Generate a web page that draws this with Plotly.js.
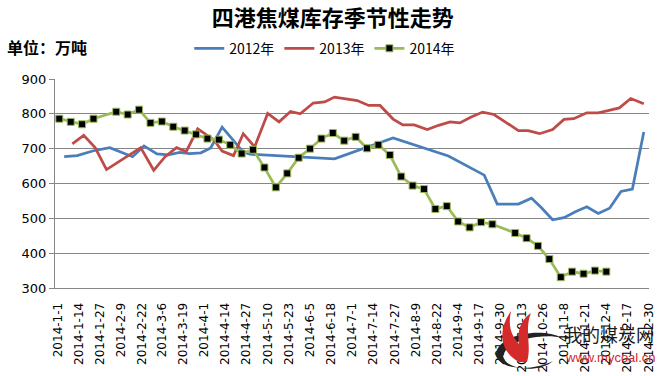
<!DOCTYPE html>
<html>
<head>
<meta charset="utf-8">
<script src="https://cdn.plot.ly/plotly-3.0.1.min.js"></script>
<style>
html,body{margin:0;padding:0;background:#fff;}
#chart{width:663px;height:376px;}
</style>
</head>
<body>
<div id="chart"></div>
<script>
// ---- data (day offsets from 2014-01-01 on the seasonal date axis) ----
const seriesNames = ['2012年', '2013年', '2014年'];

const days2012 = [4,12,22,32,46,53,61,68,75,81,88,94,101,114,118,149,170,206,240,262,270,283,291,297,304,311,318,325,332,339,346,353,360];
const vals2012 = [677,680,694,703,677,708,685,682,689,686,688,702,762,690,684,677,671,731,679,624,541,541,558,531,496,502,519,533,514,529,577,584,748];

const days2013 = [9,16,23,30,51,59,66,73,79,86,96,101,108,114,121,129,136,143,149,157,164,170,177,184,191,198,206,212,219,227,234,241,247,254,261,268,283,289,296,304,311,317,325,332,338,345,352,360];
const vals2013 = [714,738,703,640,703,638,677,703,692,757,725,693,680,743,705,801,777,807,800,831,834,848,843,838,824,824,785,768,768,755,767,777,774,791,805,798,752,752,743,755,784,786,803,803,809,817,844,829];

const days2014 = [1,8,15,22,36,43,50,57,64,71,78,85,92,99,106,113,120,127,134,141,148,155,162,169,176,183,190,197,204,211,218,225,232,239,246,253,260,267,281,288,295,302,309,316,323,330,337];
const vals2014 = [786,777,770,786,806,798,812,774,778,763,752,741,729,726,711,686,697,646,589,629,674,700,729,745,723,734,701,711,682,620,594,584,527,535,491,474,489,483,458,443,421,383,331,347,341,350,347];

const tickLabels = ['2014-1-1','2014-1-14','2014-1-27','2014-2-9','2014-2-22','2014-3-6','2014-3-19','2014-4-1','2014-4-14','2014-4-27','2014-5-10','2014-5-23','2014-6-5','2014-6-18','2014-7-1','2014-7-14','2014-7-27','2014-8-9','2014-8-22','2014-9-4','2014-9-17','2014-9-30','2014-10-13','2014-10-26','2014-11-8','2014-11-21','2014-12-4','2014-12-17','2014-12-30'];

// ---- helpers ----
const DAY = 86400000;
const BASE = Date.UTC(2014, 0, 1);
function dayToStr(d) {
  const iso = new Date(BASE + d * DAY).toISOString();
  return iso.slice(0, 10) + ' ' + iso.slice(11, 19);
}
function labelToDate(s) {
  const p = s.split('-');
  return p[0] + '-' + p[1].padStart(2, '0') + '-' + p[2].padStart(2, '0');
}

const colors = ['#4A7EBB', '#BE4B48', '#9BBB59'];

const traces = [
  {x: days2012.map(dayToStr), y: vals2012, name: seriesNames[0], type: 'scatter', mode: 'lines',
   line: {color: colors[0], width: 2.75}},
  {x: days2013.map(dayToStr), y: vals2013, name: seriesNames[1], type: 'scatter', mode: 'lines',
   line: {color: colors[1], width: 2.75}},
  {x: days2014.map(dayToStr), y: vals2014, name: seriesNames[2], type: 'scatter', mode: 'lines+markers',
   line: {color: colors[2], width: 2.75},
   marker: {symbol: 'square', size: 7, color: '#000000', line: {color: colors[2], width: 1}}}
];

// pixel -> paper conversion for the decorative watermark
const L = 55, R = 649, T = 79, B = 288;
function P(px, py) { return ((px - L) / (R - L)).toFixed(4) + ',' + ((B - py) / (B - T)).toFixed(4); }
function path(cmds) {
  return cmds.map(c => c[0] + ' ' + c.slice(1).map(pt => P(pt[0], pt[1])).join(' ')).join(' ') + ' Z';
}

const flame = path([
  ['M', [519, 362]],
  ['C', [500, 352], [497, 330], [511, 311]],
  ['C', [507, 330], [514, 338], [519, 344]],
  ['C', [517, 330], [521, 320], [531, 313]],
  ['C', [524, 330], [532, 346], [527, 362]]
]);
const swoosh = path([
  ['M', [496, 356]],
  ['C', [494, 336], [540, 326], [562, 338]],
  ['C', [546, 333], [508, 338], [503, 356]],
  ['C', [506, 371], [540, 373], [553, 361]],
  ['C', [536, 370], [503, 372], [496, 356]]
]);

const layout = {
  width: 663, height: 376,
  margin: {l: L, r: 663 - R, t: T, b: 376 - B, pad: 0},
  paper_bgcolor: '#ffffff', plot_bgcolor: '#ffffff',
  font: {family: '"DejaVu Sans", "Noto Sans CJK SC", sans-serif', color: '#000000'},
  title: {
    text: '四港焦煤库存季节性走势',
    font: {family: '"Noto Sans CJK SC", sans-serif', size: 22, color: '#000000', weight: 'bold'},
    x: 0.502, xref: 'container', xanchor: 'center',
    y: 0.972, yref: 'container', yanchor: 'top'
  },
  showlegend: true,
  legend: {
    orientation: 'h', x: 0.226, xanchor: 'left', y: 1.145, yanchor: 'middle',
    font: {family: '"Noto Sans CJK SC", sans-serif', size: 14, color: '#000000'},
    itemwidth: 30, tracegroupgap: 0, bgcolor: 'rgba(0,0,0,0)'
  },
  xaxis: {
    type: 'date',
    range: [dayToStr(-1.64), dayToStr(363.2)],
    tickvals: tickLabels.map(labelToDate),
    ticktext: tickLabels,
    tickangle: -90,
    tickfont: {family: '"DejaVu Sans", sans-serif', size: 12, color: '#000000'},
    ticks: '', ticklabelstandoff: 9,
    showgrid: false, zeroline: false,
    showline: true, linecolor: '#868686', linewidth: 1
  },
  yaxis: {
    range: [300, 900], dtick: 100, tick0: 300,
    tickfont: {family: '"DejaVu Sans", sans-serif', size: 13, color: '#000000'},
    ticks: 'outside', ticklen: 5, tickcolor: '#868686', tickwidth: 1,
    showgrid: true, gridcolor: '#868686', gridwidth: 1,
    zeroline: false, showline: true, linecolor: '#868686', linewidth: 1
  },
  annotations: [
    {text: '<b>单位：万吨</b>', xref: 'paper', yref: 'paper', x: (5 - L) / (R - L), y: (B - 47) / (B - T),
     xanchor: 'left', yanchor: 'middle', showarrow: false,
     font: {family: '"Noto Sans CJK SC", sans-serif', size: 16, color: '#000000'}},
    {text: '我的煤炭网', xref: 'paper', yref: 'paper', x: (609 - L) / (R - L), y: (B - 334) / (B - T),
     xanchor: 'center', yanchor: 'middle', showarrow: false,
     font: {family: '"Noto Sans CJK SC", sans-serif', size: 18, color: '#1a1a1a'}},
    {text: 'www.mycoal.cn', xref: 'paper', yref: 'paper', x: (610 - L) / (R - L), y: (B - 357) / (B - T),
     xanchor: 'center', yanchor: 'middle', showarrow: false,
     font: {family: '"Liberation Sans", Arial, sans-serif', size: 13, color: '#D7262C'}}
  ],
  shapes: [
    {type: 'path', xref: 'paper', yref: 'paper', path: swoosh, fillcolor: '#222222', line: {width: 0}, layer: 'above'},
    {type: 'path', xref: 'paper', yref: 'paper', path: flame, fillcolor: '#D42A2A', line: {width: 0}, layer: 'above'}
  ]
};

Plotly.newPlot('chart', traces, layout, {staticPlot: true, displayModeBar: false});
</script>
</body>
</html>
